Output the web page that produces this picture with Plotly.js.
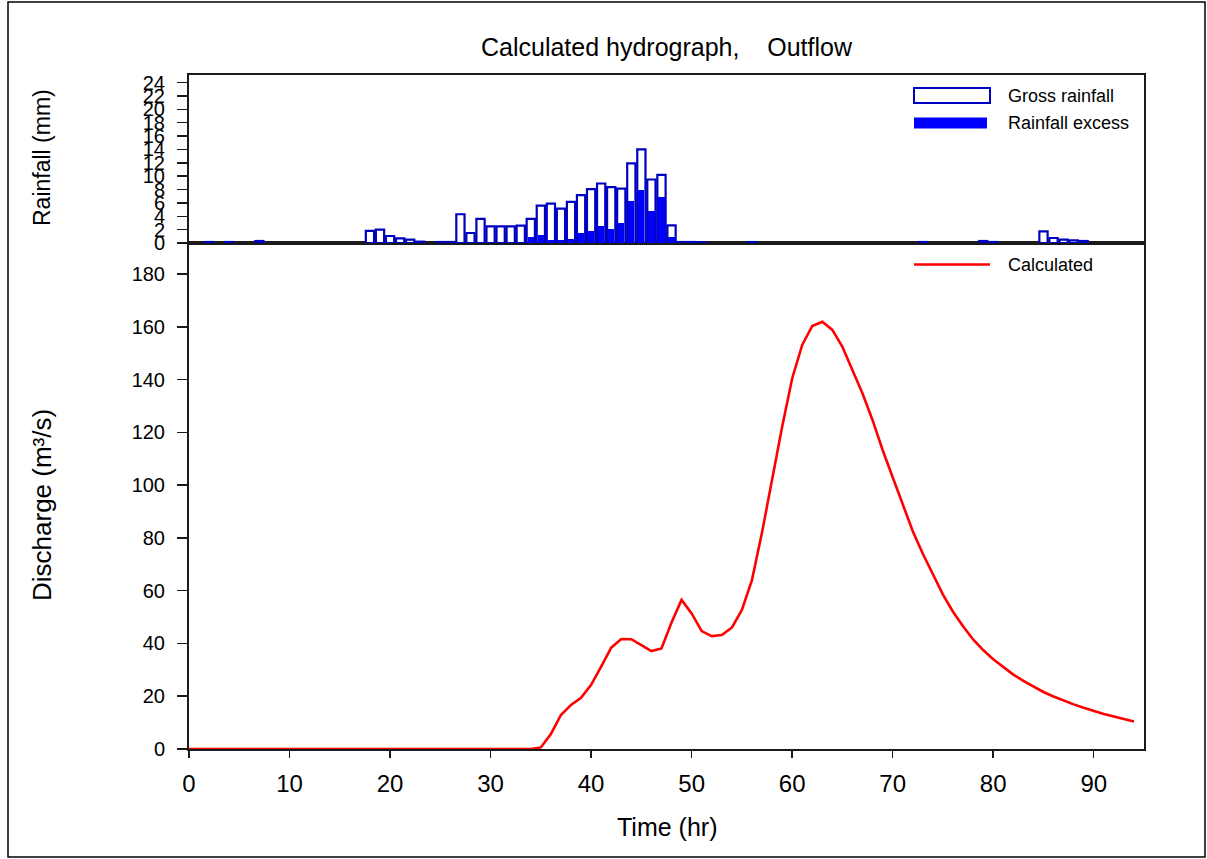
<!DOCTYPE html>
<html><head><meta charset="utf-8">
<script src="https://cdn.plot.ly/plotly-3.0.1.min.js"></script>
<style>html,body{margin:0;padding:0;background:#fff}#chart{width:1207px;height:859px}</style>
</head><body><div id="chart"></div>
<script>
// ---- data ----
const rainHours = [2,4,7,18,19,20,21,22,23,25,26,27,28,29,30,31,32,33,34,35,36,37,38,39,40,41,42,43,44,45,46,47,48,49,50,51,56,73,79,80,85,86,87,88,89];
const grossRain = [0.15,0.15,0.3,1.8,2.0,1.05,0.7,0.5,0.2,0.15,0.15,4.3,1.5,3.6,2.5,2.5,2.5,2.6,3.6,5.6,5.9,5.15,6.15,7.15,8.05,8.9,8.35,8.15,11.9,14.0,9.5,10.2,2.65,0.15,0.15,0.1,0.15,0.15,0.3,0.15,1.75,0.75,0.5,0.4,0.3];
const excessHours = [34,35,36,37,38,39,40,41,42,43,44,45,46,47,48];
const excessRain = [0.85,1.15,0.45,0.45,0.55,1.45,1.75,2.5,2.05,2.95,6.25,7.9,4.75,6.85,0.85];
const timeHr = [0,1,2,3,4,5,6,7,8,9,10,11,12,13,14,15,16,17,18,19,20,21,22,23,24,25,26,27,28,29,30,31,32,33,34,35,36,37,38,39,40,41,42,43,44,45,46,47,48,49,50,51,52,53,54,55,56,57,58,59,60,61,62,63,64,65,66,67,68,69,70,71,72,73,74,75,76,77,78,79,80,81,82,83,84,85,86,87,88,89,90,91,92,93,94];
const discharge = [0,0,0,0,0,0,0,0,0,0,0,0,0,0,0,0,0,0,0,0,0,0,0,0,0,0,0,0,0,0,0,0,0,0,0,
  0.6,5.7,12.9,16.7,19.4,24.3,31.2,38.4,41.7,41.6,39.4,37.1,38.1,47.9,56.5,51.4,44.7,42.8,43.2,46.0,52.7,64.0,
  82,102,122,140.4,153.1,160.3,161.9,158.8,152.4,143.5,134.7,124.6,113.3,103,92.5,82.5,74,66,58.5,52,46.5,41.5,
  37.5,34,31,28.2,25.8,23.6,21.6,19.9,18.3,16.9,15.6,14.4,13.3,12.3,11.3,10.4];
const xTicks = [0,10,20,30,40,50,60,70,80,90];
const qTicks = [0,20,40,60,80,100,120,140,160,180];
const rainTicks = [0,2,4,6,8,10,12,14,16,18,20,22,24];

// ---- layout helpers (pixel -> paper) ----
const L=189, R=1144, T=75, B=749, MID=243;
const px = x => (x-L)/(R-L);
const py = y => (B-y)/(B-T);
const FONT = 'Liberation Sans, Arial, sans-serif';
const AX = '#1a1a1a';

const traces = [
  {type:'bar', x:rainHours, y:grossRain, xaxis:'x2', yaxis:'y2', width:0.82,
   marker:{color:'#ffffff', line:{color:'#0000c0', width:2.2}}, name:'Gross rainfall'},
  {type:'bar', x:excessHours, y:excessRain, xaxis:'x2', yaxis:'y2', width:0.62,
   marker:{color:'#0000ff', line:{width:0}}, name:'Rainfall excess'},
  {type:'scatter', mode:'lines', x:timeHr, y:discharge, xaxis:'x', yaxis:'y',
   line:{color:'#ff0000', width:2.6}, cliponaxis:false, name:'Calculated'}
];

const commonAxis = {showgrid:false, zeroline:false, showline:true, linecolor:AX, linewidth:2,
  mirror:true, tickcolor:AX, tickwidth:1.5, tickfont:{family:FONT, size:20, color:'#000'}};

const layout = {
  width:1207, height:859,
  margin:{l:L, r:1207-R, t:T, b:859-B, pad:0},
  paper_bgcolor:'#fff', plot_bgcolor:'#fff',
  showlegend:false, barmode:'overlay', bargap:0,
  font:{family:FONT, color:'#000'},
  title:{text:'Calculated hydrograph,\u00a0\u00a0\u00a0\u00a0Outflow', xref:'paper', x:0.5, xanchor:'center',
         y:1-47/859, yanchor:'middle', font:{family:FONT, size:25, color:'#000'}},
  xaxis:Object.assign({}, commonAxis, {domain:[0,1], anchor:'y', range:[0,95], tickmode:'array', tickvals:xTicks,
         ticks:'outside', ticklen:7, ticklabelstandoff:5, tickfont:{family:FONT, size:24, color:'#000'}}),
  yaxis:Object.assign({}, commonAxis, {domain:[0, py(MID)], anchor:'x', range:[0,(B-MID)/2.639], tickmode:'array', tickvals:qTicks,
         ticks:'outside', ticklen:10, ticklabelstandoff:8}),
  xaxis2:Object.assign({}, commonAxis, {domain:[0,1], anchor:'y2', range:[0,95], showticklabels:false, ticks:''}),
  yaxis2:Object.assign({}, commonAxis, {domain:[py(MID),1], anchor:'x2', range:[0,(MID-T)/6.683], tickmode:'array', tickvals:rainTicks,
         ticks:'outside', ticklen:10, ticklabelstandoff:8}),
  shapes:[
    {type:'rect', xref:'paper', yref:'paper', x0:px(8), x1:px(1205), y0:py(857), y1:py(2), line:{color:'#000', width:1.5}, fillcolor:'rgba(0,0,0,0)'},
    {type:'rect', xref:'paper', yref:'paper', x0:px(914), x1:px(990), y0:py(103), y1:py(88), line:{color:'#0000c0', width:2}, fillcolor:'#fff'},
    {type:'rect', xref:'paper', yref:'paper', x0:px(914), x1:px(987), y0:py(128.5), y1:py(117.5), line:{width:0}, fillcolor:'#0000ff'},
    {type:'line', xref:'paper', yref:'paper', x0:px(914), x1:px(990), y0:py(264.5), y1:py(264.5), line:{color:'#ff0000', width:2.5}}
  ],
  annotations:[
    {text:'Gross rainfall', xref:'paper', yref:'paper', x:px(1006), y:py(96), xanchor:'left', yanchor:'middle', showarrow:false, font:{family:FONT, size:18, color:'#000'}},
    {text:'Rainfall excess', xref:'paper', yref:'paper', x:px(1006), y:py(123), xanchor:'left', yanchor:'middle', showarrow:false, font:{family:FONT, size:18, color:'#000'}},
    {text:'Calculated', xref:'paper', yref:'paper', x:px(1006), y:py(265), xanchor:'left', yanchor:'middle', showarrow:false, font:{family:FONT, size:18, color:'#000'}},
    {text:'Rainfall (mm)', xref:'paper', yref:'paper', x:px(42), y:py(158), textangle:-90, xanchor:'center', yanchor:'middle', showarrow:false, font:{family:FONT, size:23, color:'#000'}},
    {text:'Discharge (m³/s)', xref:'paper', yref:'paper', x:px(42), y:py(505), textangle:-90, xanchor:'center', yanchor:'middle', showarrow:false, font:{family:FONT, size:26, color:'#000'}},
    {text:'Time (hr)', xref:'paper', yref:'paper', x:px(667), y:py(827), xanchor:'center', yanchor:'middle', showarrow:false, font:{family:FONT, size:25, color:'#000'}}
  ]
};

Plotly.newPlot('chart', traces, layout, {displayModeBar:false, staticPlot:true});
</script>
</body></html>
